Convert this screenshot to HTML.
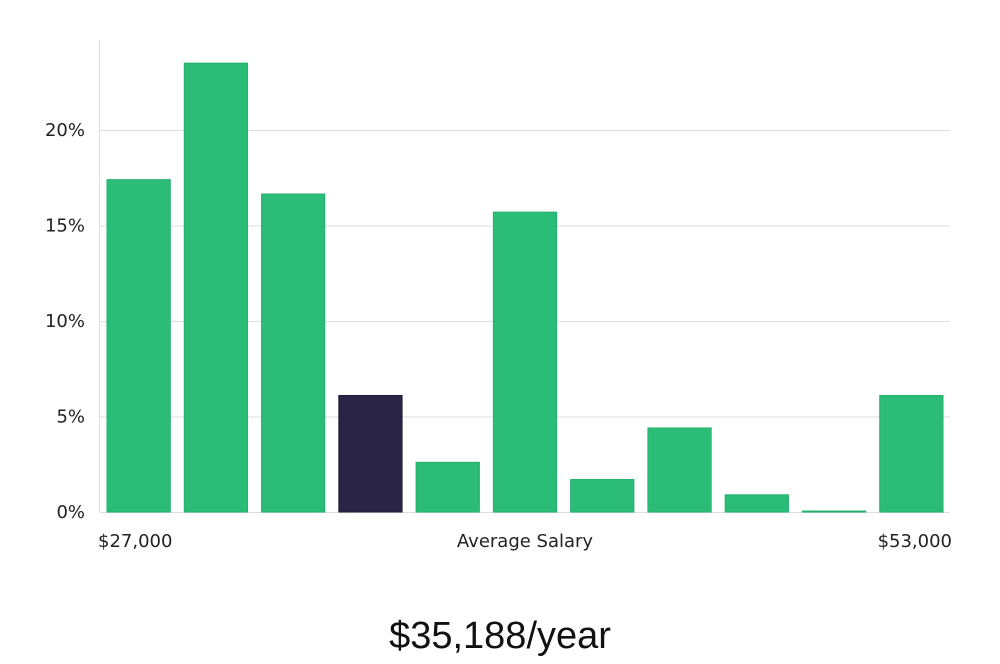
<!DOCTYPE html>
<html><head><meta charset="utf-8"><style>
body{margin:0;background:#fff;font-family:"DejaVu Sans","Liberation Sans",sans-serif;}
svg text{font-family:"DejaVu Sans","Liberation Sans",sans-serif;}
</style></head><body>
<svg width="1000" height="660" viewBox="0 0 1000 660">
<g id="grid"></g><g id="bars"></g><g id="labels"></g>
<line x1="99.5" y1="40" x2="99.5" y2="512" stroke="#e0e0e0"/>
<text x="98" y="547" font-size="18" fill="#222">$27,000</text>
<text x="525" y="547" font-size="18" fill="#222" text-anchor="middle">Average Salary</text>
<text x="952" y="547" font-size="18" fill="#222" text-anchor="end">$53,000</text>
<text x="500" y="648" font-size="38" fill="#111" text-anchor="middle" font-family="Liberation Sans" style="font-family:'Liberation Sans',sans-serif">$35,188/year</text>
</svg>
<script>
const categories=["b1","b2","b3","b4","b5","b6","b7","b8","b9","b10","b11"];
const values=[17.4,23.5,16.65,6.1,2.6,15.7,1.7,4.4,0.9,0.05,6.1];
const highlightIndex=3;
const yTicks=[0,5,10,15,20];
const yTickLabels=["0%","5%","10%","15%","20%"];
const NS="http://www.w3.org/2000/svg";
const x0=100,x1=950,yBase=512,yTop20=130;
const y=v=>yBase-(yBase-yTop20)*v/20;
const step=(x1-x0)/categories.length;
const grid=document.getElementById('grid'),bars=document.getElementById('bars'),labels=document.getElementById('labels');
yTicks.forEach((t,i)=>{
 const l=document.createElementNS(NS,'line');
 l.setAttribute('x1',x0);l.setAttribute('x2',x1);l.setAttribute('y1',y(t)+0.5);l.setAttribute('y2',y(t)+0.5);
 l.setAttribute('stroke','#dedede');
 
 
 grid.appendChild(l);
 const tx=document.createElementNS(NS,'text');
 tx.setAttribute('x',85);tx.setAttribute('y',y(t)+6);tx.setAttribute('text-anchor','end');
 tx.setAttribute('font-size','18');tx.setAttribute('fill','#222');
 tx.textContent=yTickLabels[i];
 
 
 labels.appendChild(tx);
});
values.forEach((v,i)=>{
 const r=document.createElementNS(NS,'rect');
 const bx=x0+i*step+7;
 r.setAttribute('x',bx);r.setAttribute('width',step-14);
 r.setAttribute('y',y(v));r.setAttribute('height',Math.max(1,yBase-y(v)));
 const c=i===highlightIndex?'#2a2546':'#2bbd77';
 r.setAttribute('fill',c);r.setAttribute('stroke',i===highlightIndex?'#1f1a3d':'#22b06c');
 
 
 bars.appendChild(r);
});
</script>
</body></html>
